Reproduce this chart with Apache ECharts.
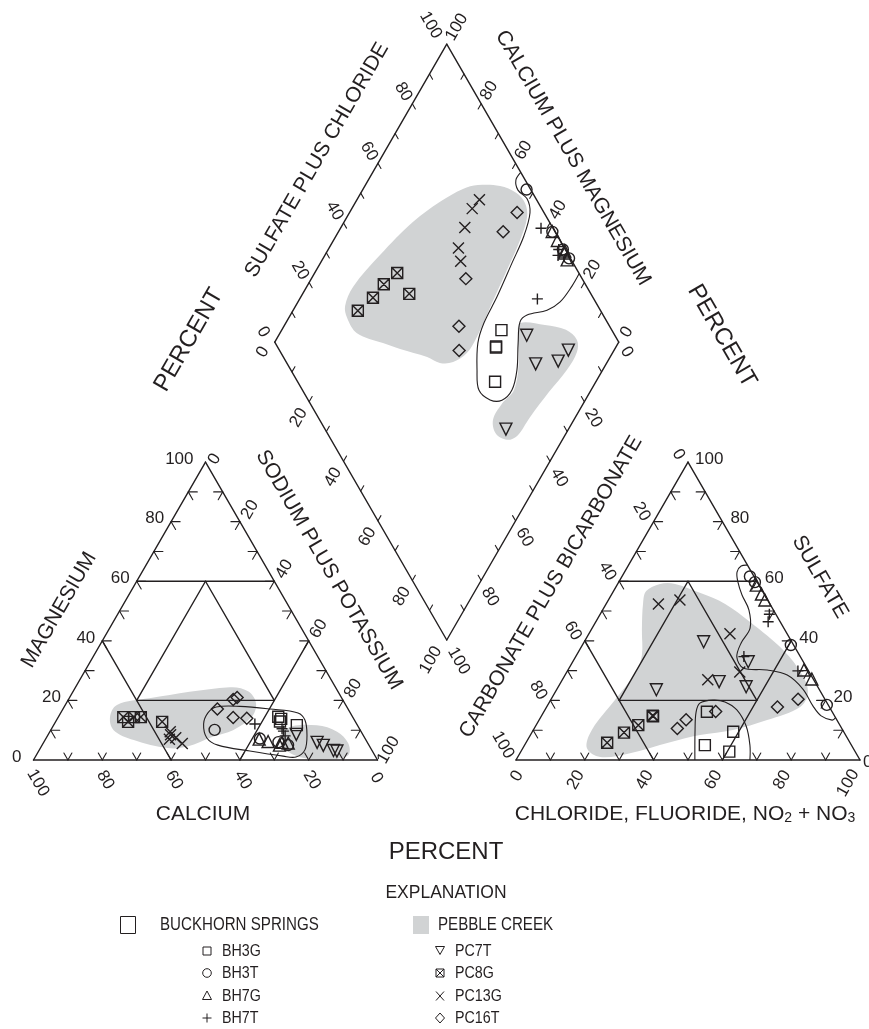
<!DOCTYPE html>
<html>
<head>
<meta charset="utf-8">
<script src="https://cdn.jsdelivr.net/npm/echarts@6/dist/echarts.min.js"></script>
<style>
html,body{margin:0;padding:0;background:#fff}
#main{width:869px;height:1029px}
</style>
</head>
<body>
<div id="main"></div>
<script>
// Piper diagram - Buckhorn Springs / Pebble Creek
var INK = '#231f20';
var GREY = '#d1d3d4';
var FONT = '"Liberation Sans", Arial, sans-serif';

// samples: cations [Ca, Mg] (Na+K = rest), anions [Cl+F+NO2+NO3, SO4] (CO3+HCO3 = rest), percent
var bh3gCat = [[21.6,14.5],[21.1,13.8],[21.9,12.9],[17.6,11.7]];
var bh3gAn  = [[58.4,9.5],[47.4,16.2],[60.6,2.8],[52.4,5.0]];
var bh3tCat = [[42.3,10.1],[30.6,7.2],[25.8,6.0],[23.5,5.0]];
var bh3tAn  = [[37.2,61.6],[60.6,38.6],[39.6,59.7],[81.1,18.5]];
var bh7gCat = [[30.9,7.0],[28.7,6.2],[24.8,5.9],[23.1,5.7],[26.0,5.0]];
var bh7gAn  = [[40.5,58.7],[43.5,55.7],[45.5,53.7],[68.6,30.2],[72.4,27.2]];
var bh7tCat = [[29.6,12.1],[22.5,9.7],[22.8,8.1],[22.5,10.5]];
var bh7tAn  = [[50.1,46.4],[67.0,29.9],[48.9,34.7],[49.2,48.9]];
var pc7tCat = [[19.3,8.6],[14.6,5.9],[13.3,4.9],[11.2,3.2],[10.3,3.0]];
var pc7tAn  = [[34.7,39.7],[45.9,26.3],[29.0,23.6],[54.6,24.6],[51.0,33.0]];
var pc8gCat = [[66.7,14.4],[66.1,12.8],[63.6,14.4],[61.6,14.4],[56.2,12.8]];
var pc8gAn  = [[23.6,5.8],[26.8,9.2],[29.7,11.7],[32.5,14.7],[32.3,14.9]];
var pc13gCat = [[55.9,8.5],[55.5,9.5],[57.0,7.0],[54.9,7.5],[54.0,5.5]];
var pc13gAn  = [[41.0,42.4],[50.3,29.5],[20.8,53.7],[42.3,26.9],[15.2,52.4]];
var pc16tCat = [[30.3,21.0],[31.8,20.3],[38.0,17.1],[34.8,14.3],[31.0,14.0]];
var pc16tAn  = [[71.8,20.4],[67.1,17.8],[49.9,16.3],[42.7,13.5],[41.6,10.6]];

// field outlines
// cation triangle [Ca, Mg]
var pebbleCat1 = [[70.5,14.5],[66.5,18.5],[56,20.7],[30.7,24.4],[26,23],[25.8,19],[29.3,14.5],[37,10],[44,7.8],[53,4.5],[59,4],[67.5,6.7],[71.7,10]];
var pebbleCat2 = [[21,10.6],[11.8,11.7],[7,9.5],[5.7,5.6],[7.6,1.7],[12.7,0.3],[22,0.9],[25,4.5]];
var buckCat = [[44.5,12.1],[41.4,15.8],[38,17.8],[31,18],[22.7,17.1],[15.2,15.8],[14.4,13.4],[16.3,8.4],[19.4,3.4],[23.2,1],[26.8,1.3],[35.6,3],[43.9,5],[45.9,7.4]];
// anion triangle [Cl, SO4]
var pebbleAn = [[10.6,52.7],[9.5,56.7],[12.3,59.1],[16.7,59.1],[25.4,56.1],[34.6,52.4],[44.9,46.3],[59.2,36.9],[69.3,28.2],[73.6,22.5],[73.7,17.8],[66.3,13.4],[58,10.1],[49.3,8.4],[41.8,6],[32,2.3],[24,1],[18.6,4],[17,10.1],[18.7,20.1],[20.1,29.5],[19,35.2],[14.8,43.6]];
var buckAn1 = [[34.6,65.4],[32.9,65.1],[32.7,63.1],[34.6,59.8],[38,55.4],[42.5,50.4],[45.9,44.3],[45.8,39.3],[46.9,34.6],[50.6,30.9],[57.9,30.2],[64.6,28.5],[71.5,23.8],[77.3,18.1],[81.3,14.8],[85.2,13.4],[85.8,14.2]];
var buckAn2 = [[52,0],[47,10.1],[44.3,16.1],[43.9,19.1],[47.2,20.1],[51,19.5],[55.8,16.8],[61.2,11.4],[65.5,5],[68,0]];
// diamond [SO4+Cl, Ca+Mg]
var pebbleDia1 = [[85.4,67.3],[91.7,60.7],[95.2,54.9],[96.1,50.6],[94.3,47.6],[88.4,45.8],[79.6,44.6],[69.7,43.4],[59.6,42.1],[54.1,42.3],[48.5,44.8],[44.5,48.5],[41.8,53.2],[35.3,62.4],[31.3,68.4],[25.4,77.6],[25.1,83],[26.5,85.6],[32,86.5],[45.2,84],[60.3,80],[71.6,75.5],[80.4,71]];
var pebbleDia2 = [[74.5,31.9],[81.4,24.3],[86.7,17.4],[88.2,12.5],[86.2,10.5],[80.3,10.4],[71.4,11.9],[61.6,13.2],[54.7,13.8],[51.1,16.1],[48.9,20.3],[50.4,23.5],[55.7,23.6],[61.5,22.4],[68,26],[71.9,30.5]];
var buckDia = [[100,57],[97.3,57.1],[96.2,54.8],[97.4,50.7],[95.9,47.5],[90.3,45.4],[82.2,44.3],[72.2,43],[64,42.4],[58.9,40.8],[54.1,36.5],[51.3,32.6],[52.9,27.7],[56.3,24.2],[60.9,23],[65.7,24.9],[70.6,29.1],[74.7,32.1],[77.9,31.2],[84.5,26.2],[89.7,23.8],[95.8,23],[100,23]];

var tickValues = [0,20,40,60,80,100];

// layout of the three plots
var S = 344;
var H = S * Math.sqrt(3) / 2;
var CAT0 = [33.5, 760];
var AN0 = [516, 760];
var DIA0 = [446.75, 640];
var R60 = Math.PI / 3;

function catXY(p){
	var ca = p[0], mg = p[1], na = 100 - ca - mg;
	return [CAT0[0] + S * (na + mg / 2) / 100, CAT0[1] - H * mg / 100];
}
function anXY(p){
	var cl = p[0], so = p[1];
	return [AN0[0] + S * (cl + so / 2) / 100, AN0[1] - H * so / 100];
}
function diaXY(p){
	var sc = p[0], cm = p[1];
	return [DIA0[0] + S / 2 * (sc - cm) / 100, DIA0[1] - H * (sc + cm) / 100];
}

// frame lines and ticks
var segs = [];
function addPath(fn, pts, w){
	for(var i = 0; i < pts.length - 1; i++){
		var a = fn(pts[i]), b = fn(pts[i + 1]);
		segs.push([a[0], a[1], b[0], b[1], w]);
	}
}
var FW = 1.4;
addPath(catXY, [[100,0],[0,0],[0,100],[100,0]], FW);
addPath(catXY, [[40,60],[0,60]], FW);
addPath(catXY, [[60,20],[20,20]], FW);
addPath(catXY, [[20,60],[60,20]], FW);
addPath(catXY, [[20,60],[20,20]], FW);
addPath(catXY, [[60,40],[60,0]], FW);
addPath(catXY, [[0,40],[40,0]], FW);
addPath(anXY, [[0,0],[100,0],[0,100],[0,0]], FW);
addPath(anXY, [[0,60],[40,60]], FW);
addPath(anXY, [[20,20],[60,20]], FW);
addPath(anXY, [[20,60],[60,20]], FW);
addPath(anXY, [[20,60],[20,20]], FW);
addPath(anXY, [[0,40],[40,0]], FW);
addPath(anXY, [[60,40],[60,0]], FW);
addPath(diaXY, [[0,100],[100,100],[100,0],[0,0],[0,100]], FW);

var SQ = Math.sqrt(3) / 2;
function addTick(p, dirs, len){
	dirs.forEach(function(d){
		segs.push([p[0], p[1], p[0] + d[0] * len, p[1] + d[1] * len, 1.1]);
	});
}
for(var v = 10; v < 100; v += 10){
	addTick(catXY([100 - v, v]), [[1,0],[0.5,SQ]], 9);
	addTick(catXY([0, v]), [[-1,0],[-0.5,SQ]], 9);
	addTick(catXY([v, 0]), [[-0.5,-SQ],[0.5,-SQ]], 8);
	addTick(anXY([0, v]), [[1,0],[0.5,SQ]], 9);
	addTick(anXY([100 - v, v]), [[-1,0],[-0.5,SQ]], 9);
	addTick(anXY([v, 0]), [[-0.5,-SQ],[0.5,-SQ]], 8);
	addTick(diaXY([v, 100]), [[0.5,SQ]], 6);
	addTick(diaXY([100, v]), [[-0.5,SQ]], 6);
	addTick(diaXY([0, v]), [[0.5,-SQ]], 6);
	addTick(diaXY([v, 0]), [[-0.5,-SQ]], 6);
}

// texts
var texts = [];
function addText(x, y, str, rot, align, size, rich){
	texts.push({x: x, y: y, text: String(str), rot: rot || 0, align: align || 'center', size: size || 17, rich: rich});
}
function pick(v, a0, a100, a){ return v === 0 ? a0 : (v === 100 ? a100 : a); }

tickValues.forEach(function(v){
	var p, o;
	// cation triangle
	p = catXY([100 - v, v]);
	addText(p[0] - pick(v, 12, 12, 7), p[1] - 3, v, 0, 'right');
	p = catXY([0, 100 - v]);
	o = pick(v, [9,-3], [11,-10], [10,-12]);
	addText(p[0] + o[0], p[1] + o[1], v, R60);
	p = catXY([v, 0]);
	o = pick(v, [-1,18], [4.5,23], [3,20]);
	addText(p[0] + o[0], p[1] + o[1], v, -R60);
	// anion triangle
	p = anXY([100 - v, v]);
	o = pick(v, [3,2], [7,-3], [8,-3]);
	addText(p[0] + o[0], p[1] + o[1], v, 0, 'left');
	p = anXY([0, 100 - v]);
	o = pick(v, [-9.5,-7.5], [-13,-15], [-12,-10]);
	addText(p[0] + o[0], p[1] + o[1], v, -R60);
	p = anXY([v, 0]);
	o = pick(v, [1,16], [-12,23], [-9,20]);
	addText(p[0] + o[0], p[1] + o[1], v, R60);
	// diamond
	p = diaXY([v, 100]);
	o = pick(v, [-11.5,-10], [-16,-19], [-9,-12]);
	addText(p[0] + o[0], p[1] + o[1], v, -R60);
	p = diaXY([100, v]);
	o = pick(v, [8,-10], [10,-17], [8,-13]);
	addText(p[0] + o[0], p[1] + o[1], v, R60);
	p = diaXY([0, 100 - v]);
	o = pick(v, [-12,10], [-16,20], [-10.5,16]);
	addText(p[0] + o[0], p[1] + o[1], v, R60);
	p = diaXY([100 - v, 0]);
	o = pick(v, [8,10], [12,21], [9,16.5]);
	addText(p[0] + o[0], p[1] + o[1], v, -R60);
});

addText(59, 610, 'MAGNESIUM', R60, 'center', 21);
addText(329, 570, 'SODIUM PLUS POTASSIUM', -R60, 'center', 21);
addText(203, 814, 'CALCIUM', 0, 'center', 21);
addText(551, 587, 'CARBONATE PLUS BICARBONATE', R60, 'center', 21);
addText(820, 577, 'SULFATE', -R60, 'center', 21);
addText(685, 814, 'CHLORIDE, FLUORIDE, NO{s|2} + NO{s|3}', 0, 'center', 21, true);
addText(317, 160, 'SULFATE PLUS CHLORIDE', R60, 'center', 21);
addText(573, 158, 'CALCIUM PLUS MAGNESIUM', -R60, 'center', 21);
addText(189, 340, 'PERCENT', R60, 'center', 24);
addText(722, 336, 'PERCENT', -R60, 'center', 24);
addText(446, 852, 'PERCENT', 0, 'center', 24);

// field regions
var fills = [pebbleCat1.map(catXY), pebbleCat2.map(catXY), pebbleAn.map(anXY), pebbleDia1.map(diaXY), pebbleDia2.map(diaXY)];
var outlines = [
	{pts: buckCat.map(catXY), closed: true},
	{pts: buckAn1.map(anXY), closed: false},
	{pts: buckAn2.map(anXY), closed: false},
	{pts: buckDia.map(diaXY), closed: false}
];

function project(cat, an){
	var out = cat.map(catXY).concat(an.map(anXY));
	for(var i = 0; i < cat.length; i++){
		out.push(diaXY([an[i][0] + an[i][1], cat[i][0] + cat[i][1]]));
	}
	return out;
}

var sampleSeries = [
	{name: 'BH3G', cat: bh3gCat, an: bh3gAn, symbol: 'rect', size: 11},
	{name: 'BH3T', cat: bh3tCat, an: bh3tAn, symbol: 'circle', size: 11},
	{name: 'BH7G', cat: bh7gCat, an: bh7gAn, symbol: 'triangle', size: 12},
	{name: 'BH7T', cat: bh7tCat, an: bh7tAn, symbol: 'path://M5,0L5,10M0,5L10,5', size: 11},
	{name: 'PC7T', cat: pc7tCat, an: pc7tAn, symbol: 'path://M0,0L12,0L6,10.4Z', size: 12},
	{name: 'PC8G', cat: pc8gCat, an: pc8gAn, symbol: 'path://M0,0L10,0L10,10L0,10Z M0,0L10,10 M10,0L0,10', size: 11},
	{name: 'PC13G', cat: pc13gCat, an: pc13gAn, symbol: 'path://M0,0L10,10M10,0L0,10', size: 11},
	{name: 'PC16T', cat: pc16tCat, an: pc16tAn, symbol: 'diamond', size: 12}
];

var series = [];
series.push({
	type: 'custom', name: 'fields', z: 1, silent: true,
	data: fills.map(function(f, i){ return [f[0][0], f[0][1], i]; }),
	renderItem: function(params, api){
		var pts = fills[params.dataIndex].map(function(p){ return api.coord(p); });
		return {type: 'polygon', shape: {points: pts, smooth: 0.35}, style: {fill: GREY}};
	}
});
series.push({
	type: 'custom', name: 'frame', z: 2, silent: true,
	data: segs,
	encode: {x: [0, 2], y: [1, 3]},
	renderItem: function(params, api){
		var a = api.coord([api.value(0), api.value(1)]);
		var b = api.coord([api.value(2), api.value(3)]);
		return {type: 'line', shape: {x1: a[0], y1: a[1], x2: b[0], y2: b[1]},
			style: {stroke: INK, lineWidth: api.value(4), lineCap: 'round'}};
	}
});
series.push({
	type: 'custom', name: 'buckhorn', z: 3, silent: true,
	data: outlines.map(function(o, i){ return [o.pts[0][0], o.pts[0][1], i]; }),
	renderItem: function(params, api){
		var o = outlines[params.dataIndex];
		var pts = o.pts.map(function(p){ return api.coord(p); });
		return {type: o.closed ? 'polygon' : 'polyline', shape: {points: pts, smooth: 0.35},
			style: {fill: 'none', stroke: INK, lineWidth: 1.1}};
	}
});
sampleSeries.forEach(function(s){
	series.push({
		type: 'scatter', name: s.name, z: 4, silent: true,
		symbol: s.symbol, symbolSize: s.size,
		itemStyle: {color: 'rgba(0,0,0,0)', borderColor: INK, borderWidth: 1.4, opacity: 1},
		data: project(s.cat, s.an)
	});
});
series.push({
	type: 'custom', name: 'labels', z: 5, silent: true,
	data: texts.map(function(t, i){ return [t.x, t.y, i]; }),
	renderItem: function(params, api){
		var t = texts[params.dataIndex];
		var c = api.coord([t.x, t.y]);
		var style = {text: t.text, fill: INK, font: t.size + 'px ' + FONT, align: t.align, verticalAlign: 'middle'};
		if(t.rich){
			style.rich = {s: {fontSize: 14, fontFamily: FONT, fill: INK, verticalAlign: 'bottom', padding: [9, 0, 0, 0]}};
		}
		return {type: 'text', x: c[0], y: c[1], rotation: t.rot, style: style};
	}
});

// explanation
function txt(x, y, s, size, align, sx){
	return {type: 'text', x: x, y: y, scaleX: sx || 0.84,
		style: {text: s, fill: INK, font: size + 'px ' + FONT, align: align || 'left', verticalAlign: 'middle'}};
}
var ln = function(x1, y1, x2, y2){ return {type: 'line', shape: {x1: x1, y1: y1, x2: x2, y2: y2}, style: {stroke: INK, lineWidth: 1}}; };
var sym = {
	BH3G: [{type: 'rect', shape: {x: -4, y: -4, width: 8, height: 8}, style: {fill: 'none', stroke: INK, lineWidth: 1}}],
	BH3T: [{type: 'circle', shape: {cx: 0, cy: 0, r: 4.3}, style: {fill: 'none', stroke: INK, lineWidth: 1}}],
	BH7G: [{type: 'polygon', shape: {points: [[0,-5],[4.5,3.5],[-4.5,3.5]]}, style: {fill: 'none', stroke: INK, lineWidth: 1}}],
	BH7T: [ln(-4.5,0,4.5,0), ln(0,-4.5,0,4.5)],
	PC7T: [{type: 'polygon', shape: {points: [[-4.5,-4.5],[4.5,-4.5],[0,3.5]]}, style: {fill: 'none', stroke: INK, lineWidth: 1}}],
	PC8G: [{type: 'rect', shape: {x: -4, y: -4, width: 8, height: 8}, style: {fill: 'none', stroke: INK, lineWidth: 1}}, ln(-4,-4,4,4), ln(4,-4,-4,4)],
	PC13G: [ln(-4,-4.5,4,4.5), ln(4,-4.5,-4,4.5)],
	PC16T: [{type: 'polygon', shape: {points: [[0,-5],[4.5,0],[0,5],[-4.5,0]]}, style: {fill: 'none', stroke: INK, lineWidth: 1}}]
};
var legendRows = [['BH3G','PC7T'],['BH3T','PC8G'],['BH7G','PC13G'],['BH7T','PC16T']];
var rowY = [951, 973, 996, 1018];
var graphic = [
	txt(446, 893, 'EXPLANATION', 19, 'center', 0.92),
	{type: 'rect', shape: {x: 120.5, y: 916.5, width: 15, height: 17}, style: {fill: '#fff', stroke: INK, lineWidth: 1}},
	txt(160, 925, 'BUCKHORN SPRINGS', 18),
	{type: 'rect', shape: {x: 413, y: 916, width: 16, height: 18}, style: {fill: GREY}},
	txt(438, 925, 'PEBBLE CREEK', 18)
];
legendRows.forEach(function(r, i){
	graphic.push({type: 'group', x: 207, y: rowY[i], children: sym[r[0]]});
	graphic.push(txt(222, rowY[i], r[0], 17));
	graphic.push({type: 'group', x: 440, y: rowY[i], children: sym[r[1]]});
	graphic.push(txt(455, rowY[i], r[1], 17));
});

var chart = echarts.init(document.getElementById('main'), null, {renderer: 'canvas'});
chart.setOption({
	animation: false,
	backgroundColor: '#ffffff',
	grid: {left: 0, right: 0, top: 0, bottom: 0},
	xAxis: {type: 'value', min: 0, max: 869, show: false},
	yAxis: {type: 'value', min: 0, max: 1029, inverse: true, show: false},
	graphic: graphic,
	series: series
});
</script>
</body>
</html>
